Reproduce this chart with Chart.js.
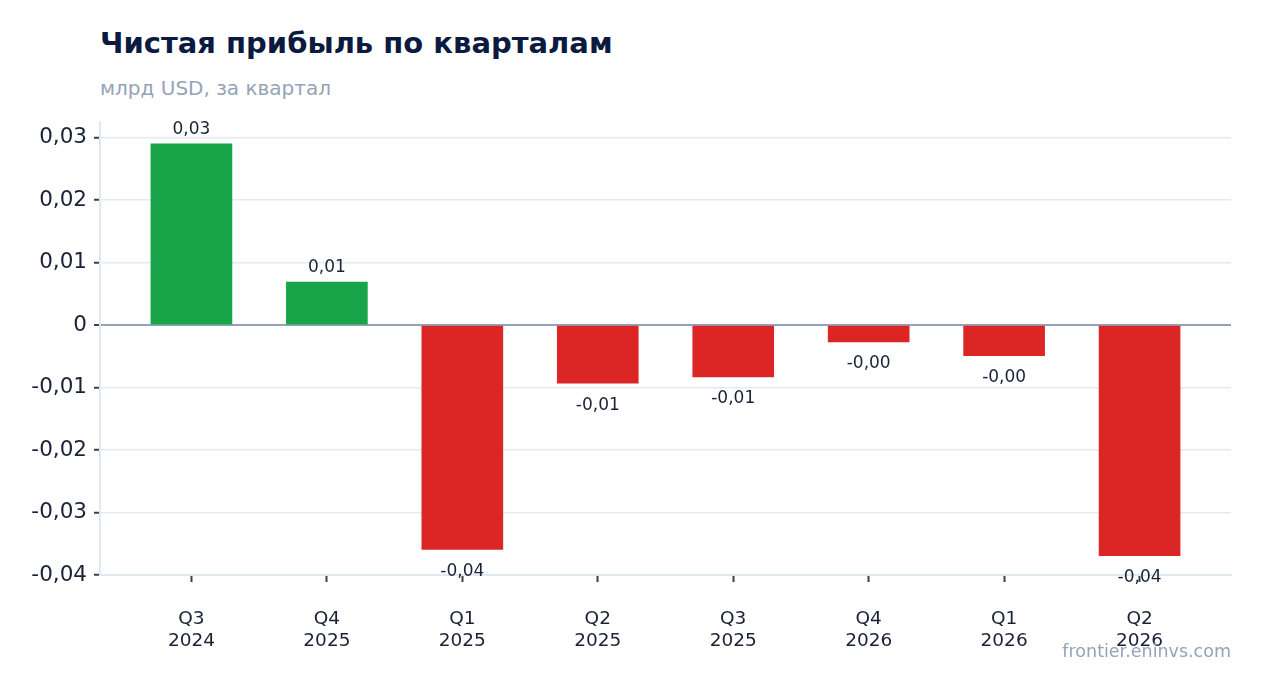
<!DOCTYPE html>
<html>
<head>
<meta charset="utf-8">
<script src="https://cdn.jsdelivr.net/npm/chart.js@4"></script>
<style>
  html, body { margin: 0; padding: 0; background: #fff; }
  body { width: 1262px; height: 693px; position: relative; overflow: hidden; font-family: "DejaVu Sans", sans-serif; }
  #title { position: absolute; left: 100px; top: 26px; font-size: 29px; font-weight: bold; color: #0b1a40; }
  #subtitle { position: absolute; left: 100px; top: 76px; font-size: 20px; color: #94a3b8; }
  #source { position: absolute; right: 31px; top: 641px; font-size: 17.5px; color: #94a3b8; }
  #wrap { position: absolute; left: 0; top: 0; width: 1262px; height: 693px; }
</style>
</head>
<body>
<div id="title">Чистая прибыль по кварталам</div>
<div id="subtitle">млрд USD, за квартал</div>
<div id="wrap"><canvas id="myChart"></canvas></div>
<div id="source">frontier.eninvs.com</div>
<script>
// quarters and net profit, bln USD
const quarters = ["Q3", "Q4", "Q1", "Q2", "Q3", "Q4", "Q1", "Q2"];
const years = ["2024", "2025", "2025", "2025", "2025", "2026", "2026", "2026"];
const profit = [0.029, 0.0069, -0.0359, -0.0093, -0.0083, -0.0027, -0.0049, -0.0369];
const yTicks = [0.03, 0.02, 0.01, 0, -0.01, -0.02, -0.03, -0.04];

const green = "#18a54a";
const red = "#dc2626";

const fmt = (v) => {
  if (Math.abs(v) < 1e-9) return "0";
  return v.toFixed(2).replace(".", ",");
};

// value labels above / below bars
const barLabels = {
  id: "barLabels",
  afterDatasetsDraw(chart) {
    const c = chart.ctx;
    const meta = chart.getDatasetMeta(0);
    c.save();
    c.font = '17px "DejaVu Sans"';
    c.fillStyle = "#1a2236";
    c.textAlign = "center";
    c.textBaseline = "middle";
    meta.data.forEach((bar, i) => {
      const v = profit[i];
      const y = v >= 0 ? bar.y - 14 : bar.y + 22;
      c.fillText(fmt(v), bar.x, y);
    });
    c.restore();
  }
};

const ctx = document.getElementById("myChart");
const myChart = new Chart(ctx, {
  type: "bar",
  data: {
    datasets: [
      {
        data: profit.map((v, i) => ({ x: i, y: v })),
        backgroundColor: profit.map((v) => (v >= 0 ? green : red)),
        barThickness: 81,
        borderWidth: 0,
      },
    ],
  },
  options: {
    responsive: true,
    maintainAspectRatio: false,
    animation: false,
    layout: { padding: { top: 122, right: 31, left: 0, bottom: 0 } },
    plugins: {
      legend: { display: false },
      tooltip: { enabled: false },
    },
    scales: {
      x: {
        type: "linear",
        offset: false,
        min: -0.675,
        max: 7.675,
        afterBuildTicks: (scale) => {
          scale.ticks = quarters.map((q, i) => ({ value: i }));
        },
        afterFit: (scale) => {
          scale.height = 118;
        },
        ticks: {
          callback: (v) => [quarters[v], years[v]],
          font: { family: "DejaVu Sans", size: 18.5 },
          color: "#1a2236",
          padding: 26,
          maxRotation: 0,
          autoSkip: false,
        },
        grid: {
          offset: false,
          drawOnChartArea: false,
          drawTicks: true,
          tickLength: 7,
          tickColor: "#374151",
          tickWidth: 2,
        },
        border: { color: "#e2e8f0", width: 2 },
      },
      y: {
        min: -0.04,
        max: 0.0325,
        afterBuildTicks: (scale) => {
          scale.ticks = yTicks.map((v) => ({ value: v }));
        },
        afterFit: (scale) => {
          scale.width = 100;
        },
        ticks: {
          callback: (v) => fmt(v),
          font: { family: "DejaVu Sans", size: 21.5 },
          color: "#1a2236",
          padding: 7,
        },
        grid: {
          color: (c) => (c.tick && Math.abs(c.tick.value) < 1e-9 ? "#94a3b8" : "#e5e9f0"),
          lineWidth: (c) => (c.tick && Math.abs(c.tick.value) < 1e-9 ? 2 : 1.5),
          tickLength: 6,
          tickColor: "#374151",
          tickWidth: 2,
        },
        border: { color: "#e2e8f0", width: 2 },
      },
    },
  },
  plugins: [barLabels],
});
</script>
</body>
</html>
